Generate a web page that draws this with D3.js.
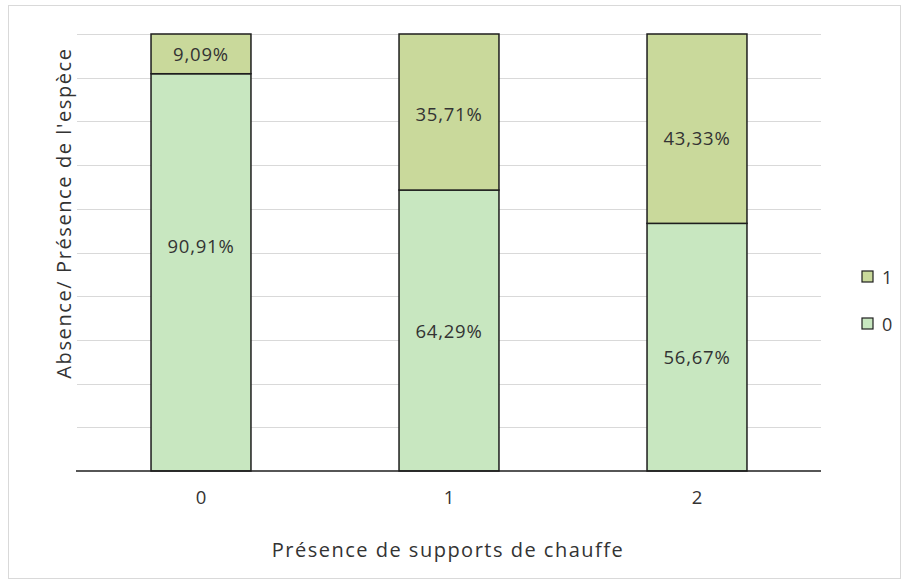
<!DOCTYPE html>
<html>
<head>
<meta charset="utf-8">
<script src="https://cdn.jsdelivr.net/npm/d3@7"></script>
<style>
  html, body { margin: 0; padding: 0; background: #fff; }
  svg { display: block; }
  text { font-family: "Open Sans", "DejaVu Sans", sans-serif; fill: #333; }
</style>
</head>
<body>
<svg id="chart" width="910" height="585"></svg>
<script>
// Categories: number of heating supports
const categories = ["0", "1", "2"];
// Share of sites where the species is absent (0) / present (1)
const absent = [90.91, 64.29, 56.67];
const present = [9.09, 35.71, 43.33];
const seriesNames = ["0", "1"];
const yTicks = [0, 10, 20, 30, 40, 50, 60, 70, 80, 90, 100];
const fmt = v => v.toFixed(2).replace(".", ",") + "%";

// vertical nudges (px) applied to the value labels of each series
const labelNudge = { "0": [-27, 0, 9], "1": [0, 1, 9] };

const svg = d3.select("#chart");
const plot = { left: 77, right: 821, top: 34, bottom: 471 };

// outer chart frame
svg.append("rect")
  .attr("x", 8.5).attr("y", 5.5)
  .attr("width", 892).attr("height", 573)
  .attr("fill", "#fff").attr("stroke", "#d9d9d9").attr("stroke-width", 1);

const x = d3.scaleBand().domain(categories)
  .range([plot.left, plot.right]).paddingInner(0.597).paddingOuter(0.2985);
const y = d3.scaleLinear().domain([0, 100]).range([plot.bottom, plot.top]);

// horizontal gridlines
svg.append("g").selectAll("line").data(yTicks.filter(t => t > 0)).join("line")
  .attr("x1", plot.left).attr("x2", plot.right)
  .attr("y1", d => Math.round(y(d)) + 0.5).attr("y2", d => Math.round(y(d)) + 0.5)
  .attr("stroke", "#d9d9d9").attr("stroke-width", 1);

const rows = categories.map((c, i) => ({ cat: c, "0": absent[i], "1": present[i] }));
const stack = d3.stack().keys(seriesNames)(rows);
const colors = { "0": "#c8e7c0", "1": "#c9d99b" };

const layers = svg.append("g").selectAll("g").data(stack).join("g")
  .attr("fill", d => colors[d.key]);
layers.selectAll("rect").data(d => d).join("rect")
  .attr("x", d => x(d.data.cat))
  .attr("width", x.bandwidth())
  .attr("y", d => y(d[1]))
  .attr("height", d => y(d[0]) - y(d[1]))
  .attr("stroke", "#1e1e1e").attr("stroke-width", 1.5);

// value labels inside each segment
layers.selectAll("text").data(d => d.map((p, i) => ({ p, i, key: d.key }))).join("text")
  .attr("x", d => x(d.p.data.cat) + x.bandwidth() / 2)
  .attr("y", d => (y(d.p[0]) + y(d.p[1])) / 2 + labelNudge[d.key][d.i])
  .attr("text-anchor", "middle").attr("dominant-baseline", "central")
  .attr("font-size", 18.5).attr("letter-spacing", 0.8)
  .text(d => fmt(d.p[1] - d.p[0]));

// x axis baseline and category labels
const xAxis = svg.append("g").attr("transform", `translate(0,${plot.bottom})`)
  .call(d3.axisBottom(x).tickSize(0).tickPadding(20));
xAxis.select(".domain").attr("stroke", "#1e1e1e").attr("stroke-width", 1.5)
  .attr("d", `M${plot.left - 1},0H${plot.right}`);
xAxis.selectAll("text").attr("font-size", 18.5).attr("fill", "#333")
  .attr("font-family", '"Open Sans", "DejaVu Sans", sans-serif');

// axis titles
svg.append("text").attr("x", 448).attr("y", 549)
  .attr("text-anchor", "middle").attr("dominant-baseline", "central")
  .attr("font-size", 20).attr("letter-spacing", 1.5)
  .text("Présence de supports de chauffe");
svg.append("text")
  .attr("transform", "translate(63,213) rotate(-90)")
  .attr("text-anchor", "middle").attr("dominant-baseline", "central")
  .attr("font-size", 20).attr("letter-spacing", 1.6)
  .text("Absence/ Présence de l'espèce");

// legend (series "1" listed above "0")
const legend = svg.append("g").selectAll("g").data(["1", "0"]).join("g")
  .attr("transform", (d, i) => `translate(862,${271 + i * 47})`);
legend.append("rect").attr("width", 11).attr("height", 11)
  .attr("fill", d => colors[d]).attr("stroke", "#1e1e1e").attr("stroke-width", 1.2);
legend.append("text").attr("x", 20).attr("y", 5.5)
  .attr("dominant-baseline", "central").attr("font-size", 18).text(d => d);
</script>
</body>
</html>
